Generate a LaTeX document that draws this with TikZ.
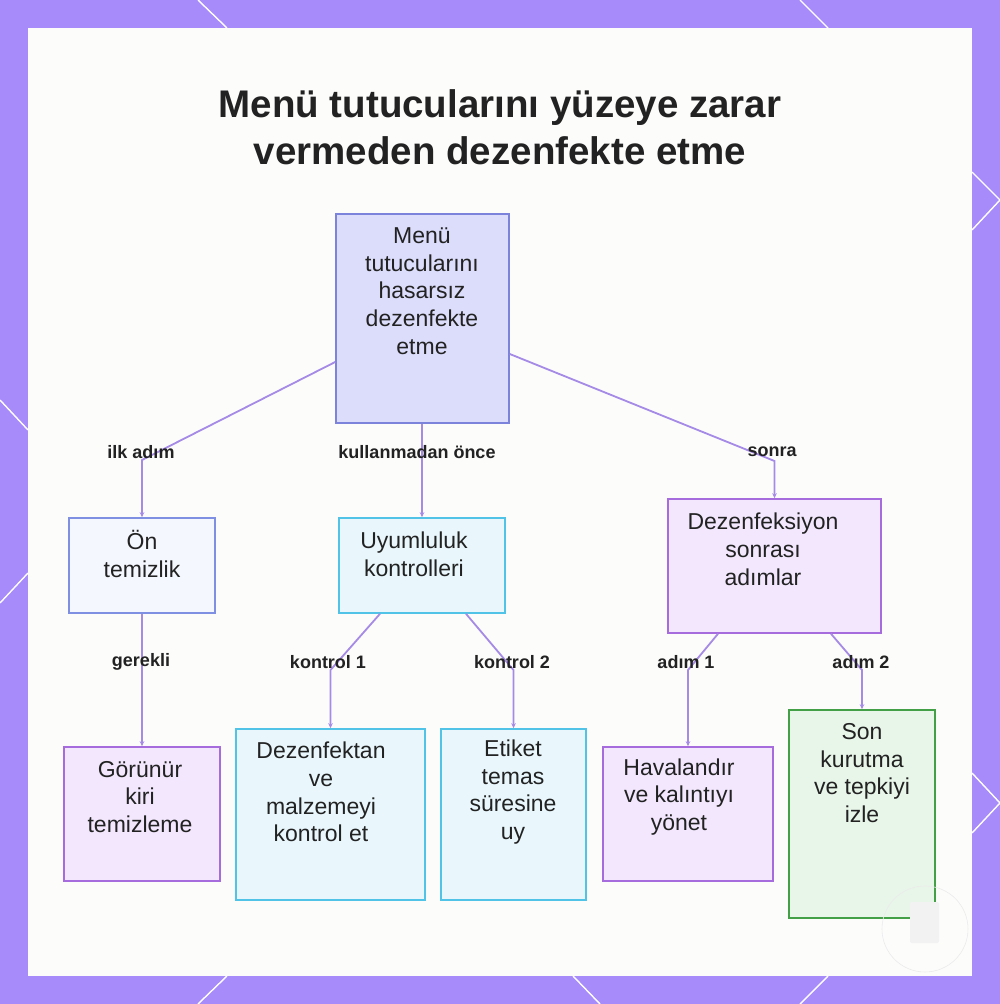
\documentclass[tikz,border=0pt]{standalone}
\usepackage{fontspec}
\setmainfont{Liberation Sans}
\usetikzlibrary{arrows.meta,calc}
\definecolor{frame}{HTML}{A78BFA}
\definecolor{edgec}{HTML}{A58AE6}
\definecolor{ink}{HTML}{222222}
\definecolor{panel}{HTML}{FCFCFB}
\definecolor{rootfill}{HTML}{DCDDFB}
\definecolor{rootdraw}{HTML}{7B83DB}
\definecolor{bluefill}{HTML}{F5F7FE}
\definecolor{bluedraw}{HTML}{7F90E3}
\definecolor{cyanfill}{HTML}{E9F7FD}
\definecolor{cyandraw}{HTML}{50C3E6}
\definecolor{purpfill}{HTML}{F2E7FD}
\definecolor{purpdraw}{HTML}{A66BDD}
\definecolor{greenfill}{HTML}{E8F5E9}
\definecolor{greendraw}{HTML}{43A047}
\tikzset{
  boxbase/.style={rectangle, line width=1.6pt, inner sep=0pt},
  rootbox/.style={boxbase, draw=rootdraw, fill=rootfill},
  bluebox/.style={boxbase, draw=bluedraw, fill=bluefill},
  cyanbox/.style={boxbase, draw=cyandraw, fill=cyanfill},
  purpbox/.style={boxbase, draw=purpdraw, fill=purpfill},
  greenbox/.style={boxbase, draw=greendraw, fill=greenfill},
  txt/.style={align=center, inner sep=0pt, text=ink, font=\fontsize{23}{27.8}\selectfont},
  elabel/.style={inner sep=0pt, text=ink, font=\bfseries\fontsize{18}{20}\selectfont},
  conn/.style={draw=edgec, line width=1.8pt, -{Stealth[length=5pt,width=4.5pt]}},
  deco/.style={draw=white, line width=1.4pt}
}
\begin{document}
\begin{tikzpicture}[x=1pt,y=-1pt]
\useasboundingbox (0,0) rectangle (1000,1004);
% frame
\fill[frame] (0,0) rectangle (1000,1004);
\draw[deco] (198,0) -- (227,28);
\draw[deco] (800,0) -- (828,28);
\draw[deco] (972,172) -- (1000,200) -- (972,230);
\draw[deco] (972,773) -- (1000,803) -- (972,833);
\draw[deco] (0,400) -- (28,430);
\draw[deco] (28,573) -- (0,603);
\draw[deco] (198,1004) -- (227,976);
\draw[deco] (573,976) -- (600,1004);
\draw[deco] (828,976) -- (800,1004);
\fill[panel] (28,28) rectangle (972,976);

% title
\node[text=ink, align=center, inner sep=0pt, font=\bfseries\fontsize{38.5}{47}\selectfont] (title) at (500,127) {Menü tutucularını yüzeye zarar\\vermeden dezenfekte etme};

% boxes
\node[rootbox, minimum width=173pt, minimum height=209pt] (root) at (422.5,318.5) {};
\node[bluebox, minimum width=146pt, minimum height=95pt] (ontem) at (142,565.5) {};
\node[cyanbox, minimum width=166pt, minimum height=95pt] (uyum) at (422,565.5) {};
\node[purpbox, minimum width=213pt, minimum height=134pt] (dez) at (774.5,566) {};
\node[purpbox, minimum width=156pt, minimum height=134pt] (gor) at (142,814) {};
\node[cyanbox, minimum width=189pt, minimum height=171pt] (dezf) at (330.5,814.5) {};
\node[cyanbox, minimum width=145pt, minimum height=171pt] (etik) at (513.5,814.5) {};
\node[purpbox, minimum width=170pt, minimum height=134pt] (hav) at (688,814) {};
\node[greenbox, minimum width=146pt, minimum height=208pt] (son) at (862,814) {};

% box texts
\node[txt] (rootT) at (422,291) {Menü\\tutucularını\\hasarsız\\dezenfekte\\etme};
\node[txt] (ontemT) at (142,554) {Ön\\temizlik};
\node[txt] (uyumT) at (414,554) {Uyumluluk\\kontrolleri};
\node[txt] (dezT) at (763,549) {Dezenfeksiyon\\sonrası\\adımlar};
\node[txt] (gorT) at (140,797) {Görünür\\kiri\\temizleme};
\node[txt] (dezfT) at (321,792) {Dezenfektan\\ve\\malzemeyi\\kontrol et};
\node[txt] (etikT) at (513,792) {Etiket\\temas\\süresine\\uy};
\node[txt] (havT) at (679,797) {Havalandır\\ve kalıntıyı\\yönet};
\node[txt] (sonT) at (862,773) {Son\\kurutma\\ve tepkiyi\\izle};

% connectors
\draw[conn] (root.west |- 0,362) -- (ontem.north |- 0,460) -- (ontem.north);
\draw[conn] (root.south -| uyum.north) -- (uyum.north);
\draw[conn] (root.east |- 0,354) -- (dez.north |- 0,461) -- (dez.north);
\draw[conn] (ontem.south) -- (gor.north);
\draw[conn] (uyum.south -| 380,0) -- (dezf.north |- 0,670) -- (dezf.north);
\draw[conn] (uyum.south -| 466,0) -- (etik.north |- 0,670) -- (etik.north);
\draw[conn] (dez.south -| 718,0) -- (hav.north |- 0,670) -- (hav.north);
\draw[conn] (dez.south -| 831,0) -- (son.north |- 0,670) -- (son.north);

% connector labels
\node[elabel] (l1) at (141,452) {ilk adım};
\node[elabel] (l2) at (417,452) {kullanmadan önce};
\node[elabel] (l3) at (772,452) {sonra};
\node[elabel] (l4) at (141,662) {gerekli};
\node[elabel] (l5) at (328,662) {kontrol 1};
\node[elabel] (l6) at (512,662) {kontrol 2};
\node[elabel] (l7) at (686,662) {adım 1};
\node[elabel] (l8) at (861,662) {adım 2};

% faint badge bottom right
\draw[white!92!black, line width=0.6pt] (925,929) circle (43);
\fill[white!95!black, rounded corners=2pt] (910,902) rectangle (939,943);
\end{tikzpicture}
\end{document}
